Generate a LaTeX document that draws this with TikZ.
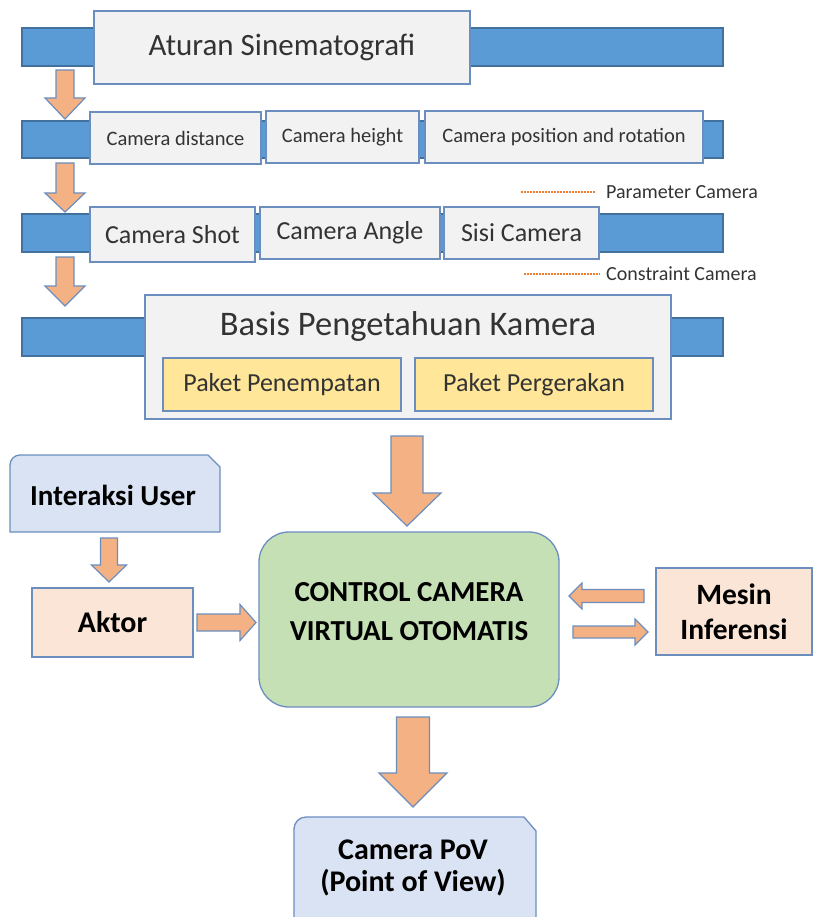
\documentclass[tikz,border=0pt]{standalone}
\usepackage{fontspec}
\setmainfont{Carlito}
\definecolor{barblue}{HTML}{5B9BD5}
\definecolor{baredge}{HTML}{41719C}
\definecolor{edge}{HTML}{6C8EBF}
\definecolor{boxgrey}{HTML}{F2F2F2}
\definecolor{txtgrey}{HTML}{333333}
\definecolor{arrorange}{HTML}{F4B183}
\definecolor{leggold}{HTML}{ED7D31}
\definecolor{pyellow}{HTML}{FFE699}
\definecolor{ppeach}{HTML}{FBE5D6}
\definecolor{pgreen}{HTML}{C5E0B4}
\definecolor{pblue}{HTML}{DAE3F3}
\newcommand{\fsz}[2]{\fontsize{#1}{#2}\selectfont}
% down block arrow: x center, y top, y head base, y tip, half shaft, half head
\newcommand{\blkdown}[6]{\draw[blk] (#1-#5,#2) -- (#1+#5,#2) -- (#1+#5,#3) -- (#1+#6,#3) -- (#1,#4) -- (#1-#6,#3) -- (#1-#5,#3) -- cycle;}
% horizontal block arrow: y center, x start, x head base, x tip, half shaft, half head
\newcommand{\blkhor}[6]{\draw[blk] (#2,#1-#5) -- (#3,#1-#5) -- (#3,#1-#6) -- (#4,#1) -- (#3,#1+#6) -- (#3,#1+#5) -- (#2,#1+#5) -- cycle;}
\begin{document}
\begin{tikzpicture}[x=1pt,y=-1pt,
  bar/.style={draw=baredge, fill=barblue, line width=1.2pt},
  gbox/.style={draw=edge, fill=boxgrey, line width=1.3pt, inner sep=0pt, text=txtgrey},
  ybox/.style={draw=edge, fill=pyellow, line width=1.3pt, inner sep=0pt, text=txtgrey},
  pbox/.style={draw=edge, fill=ppeach, line width=1.3pt, inner sep=0pt, font=\bfseries},
  blk/.style={draw=edge, fill=arrorange, line width=1.2pt, line join=miter},
  legline/.style={draw=leggold, line width=1.1pt, dash pattern=on 2pt off 1pt},
  legtxt/.style={anchor=west, inner sep=0pt, text=txtgrey, font=\fsz{20}{24}}]
\useasboundingbox (0,0) rectangle (817,917);
\clip (0,0) rectangle (817,917);

% blue bars
\draw[bar] (22,28) rectangle (723,66);
\draw[bar] (22,121) rectangle (723,158);
\draw[bar] (22,214) rectangle (723,252);
\draw[bar] (22,318) rectangle (723,356);

% row 1
\node[gbox, minimum width=376pt, minimum height=73pt, font=\fsz{31}{36}] (aturan) at (282,47.5) {Aturan Sinematografi};
% row 2
\node[gbox, minimum width=171pt, minimum height=52pt, font=\fsz{20.5}{24}] (cd) at (175.5,138) {Camera distance};
\node[gbox, minimum width=153pt, minimum height=52pt, font=\fsz{20.5}{24}] (ch) at (342.5,137) {Camera height};
\node[gbox, minimum width=278pt, minimum height=52pt, font=\fsz{20.5}{24}] (cp) at (564,137) {Camera position and rotation};
% row 3
\node[gbox, minimum width=165pt, minimum height=55pt, font=\fsz{26}{30}] (cs) at (172.5,234.5) {Camera Shot};
\node[gbox, minimum width=180pt, minimum height=52pt, font=\fsz{26}{30}] (ca) at (350,233) {Camera Angle};
\node[gbox, minimum width=155pt, minimum height=52pt, font=\fsz{26}{30}] (sc) at (521.5,233) {Sisi Camera};
% row 4
\node[gbox, minimum width=526pt, minimum height=124pt] (basis) at (408,357) {};
\node[inner sep=0pt, text=txtgrey, font=\fsz{34.5}{40}] (basist) at (408,326) {Basis Pengetahuan Kamera};
\node[ybox, minimum width=238pt, minimum height=53pt, font=\fsz{26}{30}] (pp) at (282,384.5) {Paket Penempatan};
\node[ybox, minimum width=238pt, minimum height=53pt, font=\fsz{26}{30}] (pg) at (534,384.5) {Paket Pergerakan};

% legend
\coordinate (l1a) at (521,192); \coordinate (l1b) at (595,192);
\coordinate (l2a) at (524,274); \coordinate (l2b) at (600,274);
\draw[legline] (l1a) -- (l1b);
\draw[legline] (l2a) -- (l2b);
\node[legtxt] (legp) at (606,192) {Parameter Camera};
\node[legtxt] (legc) at (606,274) {Constraint Camera};

% left down arrows
\blkdown{65}{70}{98}{119}{9}{20}
\blkdown{65}{163}{193}{212}{9}{20}
\blkdown{65}{257}{286}{306}{9}{20}

% Interaksi User (snip + round corner)
\draw[draw=edge, fill=pblue, line width=1.3pt] (10,532) -- (10,465) arc[start angle=180, end angle=90, radius=10pt] -- (208,455) -- (220,467) -- (220,532) -- cycle;
\node[inner sep=0pt, font=\fsz{29}{34}\bfseries] (user) at (113,495) {Interaksi User};

% Aktor
\node[pbox, minimum width=161pt, minimum height=69pt, font=\fsz{30}{35}\bfseries] (aktor) at (112.5,622.5) {Aktor};

% green control
\node[draw=edge, fill=pgreen, line width=1.3pt, rounded corners=30pt, minimum width=300pt, minimum height=175pt] (ctrl) at (409,619.5) {};
\node[inner sep=0pt, align=center, font=\fsz{29}{39}\bfseries] (ctrlt) at (409,612) {CONTROL CAMERA\\VIRTUAL OTOMATIS};

% Mesin Inferensi
\node[pbox, minimum width=156pt, minimum height=87pt, align=center, font=\fsz{29.5}{35}\bfseries] (mesin) at (734,611.5) {Mesin\\Inferensi};

% Camera PoV (snip + round corner)
\draw[draw=edge, fill=pblue, line width=1.3pt] (294,930) -- (294,829) arc[start angle=180, end angle=90, radius=12pt] -- (524,817) -- (536,831) -- (536,930) -- cycle;
\node[inner sep=0pt, align=center, font=\fsz{30}{32}\bfseries] (pov) at (413,868) {Camera PoV\\(Point of View)};

% block arrows
\blkdown{407}{436}{493}{526}{16}{34}
\blkdown{413}{717}{773}{807}{16.5}{34}
\blkdown{109}{538}{565}{582}{8.5}{17.5}
\blkhor{622.5}{197}{240}{256}{8.5}{18}
\blkhor{596}{644}{582}{569}{6.5}{13}
\blkhor{632}{573}{635}{648}{6}{13}
\end{tikzpicture}
\end{document}
